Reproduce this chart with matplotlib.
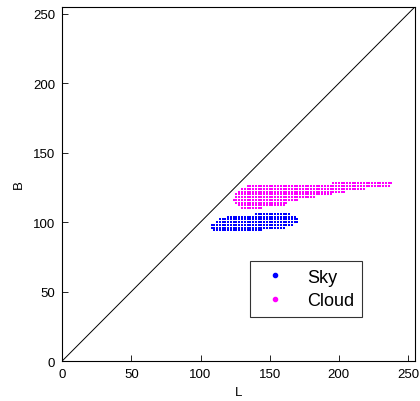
import numpy as np
import matplotlib.pyplot as plt

plt.rcParams['font.family'] = ['Liberation Sans', 'DejaVu Sans']

# Sky pixels: one row per B value, L range covered in that row (grid step 2)
sky_B = [94, 96, 98, 100, 102, 104, 106]
sky_L0 = [110, 108, 108, 112, 114, 120, 140]
sky_L1 = [144, 160, 166, 170, 170, 168, 164]

# Cloud pixels
cloud_B = [110, 112, 114, 116, 118, 120, 122, 124, 126, 128]
cloud_L0 = [130, 128, 126, 124, 126, 126, 128, 130, 134, 196]
cloud_L1 = [144, 160, 162, 170, 182, 194, 204, 218, 236, 238]

# diagonal reference line
diag = [0, 255]


def expand(Bs, L0s, L1s):
    pts = [(L, b) for b, a, e in zip(Bs, L0s, L1s) for L in range(a, e + 1, 2)]
    return np.array(pts)


sky = expand(sky_B, sky_L0, sky_L1)
cloud = expand(cloud_B, cloud_L0, cloud_L1)

fig = plt.figure(figsize=(4.2, 4.02), dpi=100)
ax = fig.add_axes([0.148, 0.0995, 0.84, 0.881])

ax.plot(diag, diag, color='black', lw=0.7)
ax.scatter(sky[:, 0], sky[:, 1], marker='s', s=3.6, color='blue', linewidths=0)
ax.scatter(cloud[:, 0], cloud[:, 1], marker='s', s=3.6, color='magenta', linewidths=0)

# legend proxies
ax.plot([], [], '.', color='blue', ms=6, label='Sky')
ax.plot([], [], '.', color='magenta', ms=6, label='Cloud')
leg = ax.legend(loc='lower left', bbox_to_anchor=(0.533, 0.124), fontsize=13,
                frameon=True, fancybox=False, edgecolor='black',
                handlelength=1.8, handletextpad=0.9, borderpad=0.45,
                labelspacing=0.35, borderaxespad=0)
leg.get_frame().set_linewidth(0.8)

ax.set_xlim(0, 255)
ax.set_ylim(0, 255)
ax.set_xticks([0, 50, 100, 150, 200, 250])
ax.set_yticks([0, 50, 100, 150, 200, 250])
ax.tick_params(direction='in', labelsize=9.5, length=4, width=0.6, pad=5,
               colors='black')
for s in ax.spines.values():
    s.set_linewidth(0.8)
ax.set_xlabel('L', fontsize=9.5, labelpad=4)
ax.set_ylabel('B', fontsize=9.5, labelpad=6)

fig.savefig('out.png', dpi=100)
